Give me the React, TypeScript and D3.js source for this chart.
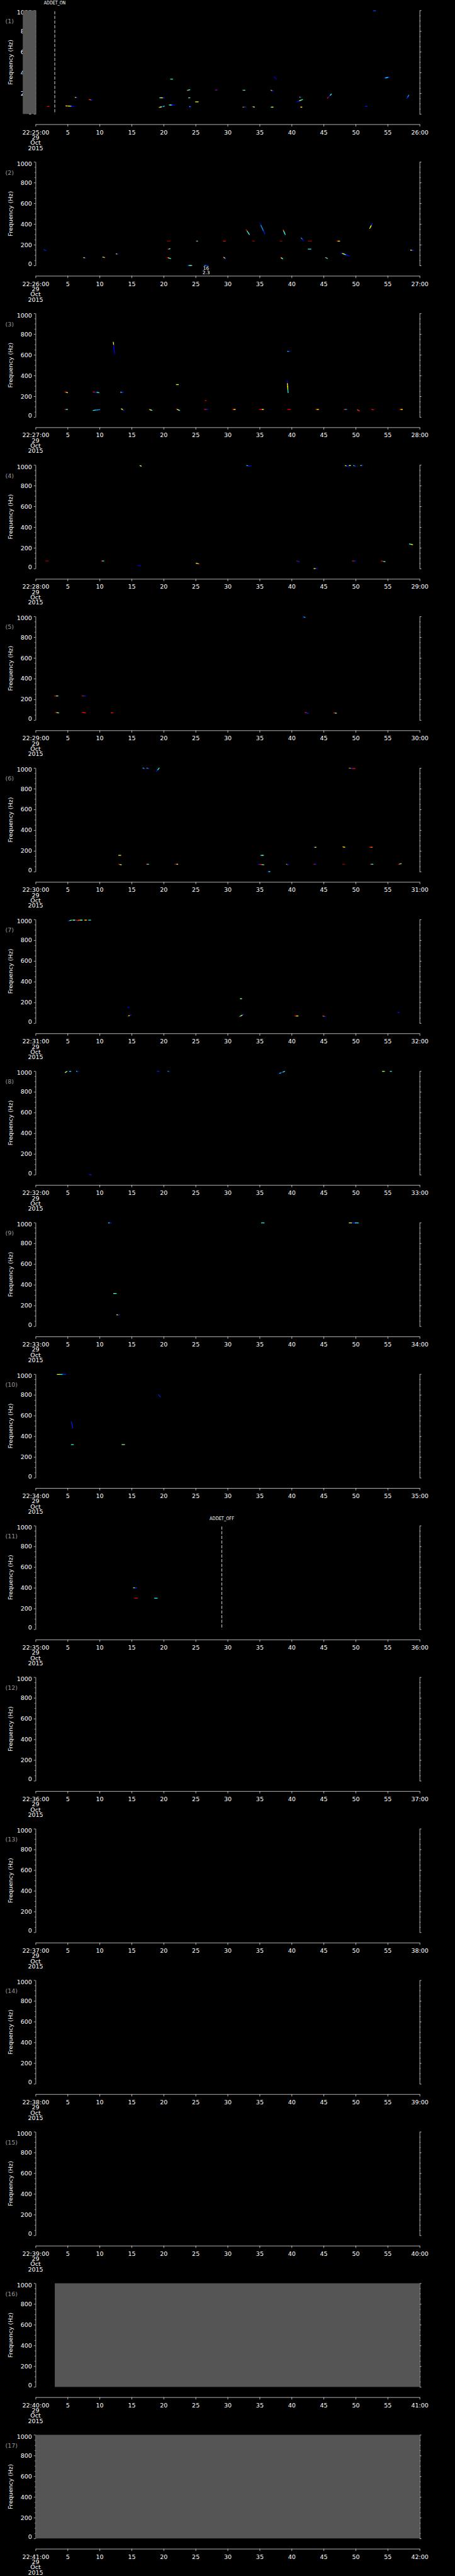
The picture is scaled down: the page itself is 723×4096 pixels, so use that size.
import React, { useEffect, useRef } from 'react';
import * as d3 from 'd3';

// each track: [tStart (s), tEnd (s), fStart (Hz), fEnd (Hz), intensity (0..1) along the track]
type Track = [number, number, number, number, number[]];

const panel1: Track[] = [
  [1.8, 2.1, 73, 73, [0.97, 0.87]],
  [4.75, 6.0, 78, 74, [0.62, 0.75, 0.62, 0.5, 0.15, 0.1]],
  [6.2, 6.5, 160, 156, [0.62, 0.15]],
  [8.35, 8.8, 139, 134, [0.87, 0.75, 0.15]],
  [19.4, 20.1, 156, 156, [0.4, 0.62, 0.62, 0.15]],
  [19.3, 20.1, 63, 75, [0.75, 0.62, 0.5, 0.15, 0.4]],
  [20.9, 21.7, 87, 85, [0.5, 0.4, 0.15, 0.1]],
  [21.1, 21.4, 336, 336, [0.4]],
  [23.7, 24.1, 228, 234, [0.75, 0.4]],
  [23.9, 24.1, 156, 156, [0.75, 0.4]],
  [24.0, 24.3, 71, 71, [0.15, 0.4, 0.15]],
  [25.0, 25.4, 117, 117, [0.62]],
  [28.1, 28.4, 231, 231, [0.87, 0.15]],
  [32.4, 32.7, 229, 229, [0.75, 0.4]],
  [32.4, 32.8, 66, 66, [0.75, 0.15]],
  [33.8, 34.2, 71, 67, [0.97, 0.5]],
  [36.8, 37.1, 228, 222, [0.5, 0.15]],
  [36.8, 37.1, 66, 66, [0.4, 0.62]],
  [37.3, 37.6, 357, 339, [0.1]],
  [40.8, 41.7, 117, 139, [0.1, 0.15, 0.62, 0.4]],
  [41.3, 41.5, 162, 162, [0.62, 0.15]],
  [41.4, 41.6, 66, 66, [0.75, 0.62]],
  [45.6, 46.2, 153, 191, [0.87, 0.1, 0.15, 0.4]],
  [51.5, 51.8, 74, 74, [0.15]],
  [52.8, 53.1, 996, 996, [0.2]],
  [54.5, 55.3, 346, 356, [0.15, 0.4, 0.4, 0.1]],
  [58.0, 58.3, 150, 181, [0.15, 0.28]],
];

const panel2: Track[] = [
  [1.3, 1.6, 154, 144, [0.15]],
  [7.5, 7.8, 77, 71, [0.75, 0.62, 0.15]],
  [10.5, 10.8, 81, 77, [0.5, 0.75]],
  [12.6, 12.9, 112, 112, [0.62, 0.15]],
  [20.6, 21.0, 235, 235, [0.97]],
  [20.7, 21.0, 157, 162, [0.87, 0.4]],
  [20.6, 21.1, 77, 67, [0.87, 0.62, 0.4]],
  [23.75, 24.4, 0, 0, [0.15, 0.4, 0.5]],
  [25.1, 25.3, 235, 235, [0.87, 0.4]],
  [26.4, 26.9, 0, 0, [0.28, 0.15]],
  [29.35, 29.65, 235, 235, [0.87]],
  [29.35, 29.7, 81, 64, [0.87, 0.62, 0.4, 0.15]],
  [32.9, 33.4, 346, 299, [0.87, 0.4, 0.4]],
  [33.9, 34.2, 235, 235, [0.97]],
  [35.0, 35.8, 415, 306, [0.05, 0.28, 0.28, 0.15]],
  [38.2, 38.5, 235, 235, [0.97]],
  [38.3, 38.6, 78, 64, [0.87, 0.62, 0.4]],
  [38.7, 39.0, 341, 299, [0.75, 0.4, 0.4]],
  [41.5, 41.9, 265, 238, [0.28, 0.1]],
  [42.6, 43.1, 235, 235, [0.97]],
  [42.6, 43.0, 158, 158, [0.4]],
  [45.3, 45.6, 77, 68, [0.75, 0.4]],
  [47.0, 47.5, 235, 235, [0.97, 0.62]],
  [47.7, 49.0, 121, 92, [0.15, 0.62, 0.4, 0.15, 0.1]],
  [52.2, 52.6, 358, 405, [0.62, 0.62, 0.15]],
  [58.6, 59.0, 149, 145, [0.62, 0.15]],
];

const panel3: Track[] = [
  [12.15, 12.35, 721, 611, [0.62, 0.1, 0.1, 0.1]],
  [4.6, 5.0, 241, 236, [0.87, 0.62]],
  [4.6, 5.0, 73, 73, [0.87, 0.4]],
  [9.0, 9.9, 241, 236, [0.87, 0.15, 0.4]],
  [9.0, 10.0, 64, 71, [0.4, 0.28, 0.28]],
  [13.3, 13.7, 239, 239, [0.4, 0.15]],
  [13.4, 13.8, 79, 64, [0.62, 0.62, 0.15]],
  [17.8, 18.2, 73, 64, [0.75, 0.62, 0.4]],
  [22.0, 22.3, 313, 313, [0.62]],
  [22.0, 22.5, 77, 64, [0.87, 0.62, 0.4]],
  [26.5, 26.65, 159, 159, [0.87]],
  [26.4, 26.9, 73, 73, [0.87, 0.15]],
  [30.8, 31.2, 73, 73, [0.87, 0.62]],
  [35.0, 35.6, 73, 73, [0.87, 0.87, 0.62]],
  [39.4, 39.7, 634, 634, [0.4, 0.15]],
  [39.3, 39.45, 351, 236, [0.1, 0.62, 0.62, 0.4]],
  [39.4, 39.8, 73, 73, [0.87]],
  [43.8, 44.2, 73, 73, [0.87, 0.62]],
  [48.2, 48.6, 73, 73, [0.87, 0.28]],
  [50.3, 50.6, 69, 59, [0.75, 0.87]],
  [52.5, 52.8, 73, 69, [0.87]],
  [56.9, 57.3, 73, 73, [0.87, 0.62]],
];

const panel4: Track[] = [
  [16.3, 16.5, 994, 989, [0.4, 0.62]],
  [33.0, 33.6, 994, 989, [0.4, 0.15, 0.1]],
  [48.4, 49.0, 994, 980, [0.62, 0.1, 0.1]],
  [49.0, 49.2, 994, 994, [0.62, 0.5]],
  [49.7, 50.0, 994, 989, [0.4, 0.15]],
  [50.8, 51.1, 994, 994, [0.5, 0.15]],
  [58.4, 58.9, 237, 231, [0.4, 0.62]],
  [1.6, 2.0, 73, 73, [0.97]],
  [10.3, 10.65, 73, 73, [0.87, 0.4]],
  [16.0, 16.4, 30, 24, [0.1]],
  [25.1, 25.5, 51, 46, [0.62, 0.75]],
  [40.8, 41.2, 73, 67, [0.97, 0.15]],
  [43.5, 44.0, 0, 0, [0.62, 0.15]],
  [49.5, 50.0, 73, 73, [0.87, 0.15]],
  [54.0, 54.6, 73, 67, [0.87, 0.87, 0.4]],
];

const panel5: Track[] = [
  [41.8, 42.1, 997, 991, [0.15, 0.3]],
  [3.0, 3.5, 233, 233, [0.87, 0.5]],
  [7.3, 7.8, 233, 233, [0.87, 0.15]],
  [3.1, 3.6, 74, 70, [0.87, 0.5]],
  [7.3, 7.8, 74, 70, [0.87, 0.87]],
  [11.8, 12.1, 70, 70, [0.87]],
  [42.1, 42.6, 74, 66, [0.87, 0.15]],
  [46.6, 47.0, 70, 66, [0.87, 0.5]],
];

const panel6: Track[] = [
  [16.8, 17.1, 999, 994, [0.4, 0.15]],
  [17.4, 17.7, 999, 994, [0.75, 0.15]],
  [18.9, 19.3, 967, 999, [0.15, 0.4]],
  [49.0, 49.9, 999, 994, [0.75, 0.15, 0.87]],
  [13.0, 13.3, 157, 157, [0.62]],
  [13.0, 13.4, 71, 66, [0.87, 0.5]],
  [17.3, 17.65, 71, 71, [0.87, 0.4]],
  [21.8, 22.2, 71, 71, [0.87, 0.15, 0.62]],
  [35.2, 35.6, 157, 157, [0.4, 0.5]],
  [34.8, 35.65, 71, 66, [0.15, 0.87, 0.5]],
  [36.3, 36.6, 0, 0, [0.15, 0.4]],
  [39.2, 39.5, 71, 66, [0.75, 0.15]],
  [43.5, 43.8, 235, 235, [0.15, 0.62]],
  [43.5, 43.8, 71, 71, [0.87, 0.15]],
  [48.0, 48.3, 239, 235, [0.75, 0.62]],
  [48.0, 48.3, 71, 71, [0.97]],
  [52.2, 52.6, 235, 235, [0.87, 0.75]],
  [52.3, 52.7, 71, 71, [0.87, 0.4]],
  [56.7, 57.1, 70, 77, [0.87, 0.5]],
];

const panel7: Track[] = [
  [5.1, 5.6, 986, 994, [0.15, 0.5]],
  [5.8, 6.2, 994, 994, [0.4, 0.62]],
  [6.2, 6.7, 994, 989, [0.15, 0.87]],
  [6.7, 6.9, 994, 994, [0.75]],
  [7.0, 7.3, 994, 994, [0.62, 0.4]],
  [7.7, 8.0, 994, 994, [0.62, 0.75]],
  [8.3, 8.6, 994, 994, [0.4]],
  [14.4, 14.6, 154, 149, [0.1]],
  [14.4, 14.9, 67, 79, [0.97, 0.62, 0.15]],
  [32.0, 32.2, 236, 236, [0.62, 0.4]],
  [31.8, 32.5, 61, 86, [0.97, 0.4, 0.62, 0.15]],
  [40.5, 41.0, 69, 69, [0.87, 0.62]],
  [44.9, 45.3, 69, 63, [0.75, 0.15]],
  [56.6, 56.8, 103, 103, [0.15]],
];

const panel8: Track[] = [
  [4.65, 4.9, 986, 997, [0.62, 0.5]],
  [5.2, 5.5, 997, 997, [0.15, 0.4]],
  [6.4, 6.65, 997, 997, [0.4, 0.15]],
  [19.0, 19.3, 997, 997, [0.15]],
  [20.7, 20.9, 997, 997, [0.4, 0.15]],
  [37.9, 38.9, 973, 997, [0.1, 0.4, 0.15, 0.4]],
  [54.2, 54.5, 997, 997, [0.62, 0.5]],
  [55.4, 55.6, 997, 997, [0.4]],
  [8.4, 8.7, 0, 0, [0.15]],
];

const panel9: Track[] = [
  [11.4, 11.8, 997, 997, [0.4, 0.15]],
  [12.2, 12.6, 316, 316, [0.5, 0.4]],
  [12.7, 13.1, 110, 110, [0.62, 0.15]],
  [35.3, 35.7, 997, 997, [0.4]],
  [49.0, 50.4, 997, 997, [0.62, 0.15, 0.4]],
];

const panel10: Track[] = [
  [3.4, 4.7, 997, 997, [0.62, 0.4, 0.15]],
  [5.6, 5.8, 540, 480, [0.15]],
  [5.6, 5.9, 320, 320, [0.4]],
  [13.5, 13.9, 320, 320, [0.5]],
  [19.2, 19.5, 800, 780, [0.15]],
];

const panel11: Track[] = [
  [15.3, 15.8, 400, 400, [0.5, 0.15]],
  [15.5, 15.9, 300, 300, [0.87]],
  [18.6, 19.0, 300, 300, [0.4]],
];

const emptyPanel: Track[] = [];

const panelTracks: Track[][] = [
  panel1, panel2, panel3, panel4, panel5, panel6, panel7, panel8, panel9, panel10, panel11,
  emptyPanel, emptyPanel, emptyPanel, emptyPanel, emptyPanel, emptyPanel,
];

// minute of 22:MM:00 at the start of each panel
const startMinutes = [25, 26, 27, 28, 29, 30, 31, 32, 33, 34, 35, 36, 37, 38, 39, 40, 41];

// spans without data (seconds), drawn grey
const dataGaps: [number, number][][] = [
  [[-2.0, 0]], [], [], [], [], [], [], [], [], [], [], [], [], [], [], [[3.0, 60]], [[0, 60]],
];

const events = [
  { panel: 0, t: 3.0, label: 'ADDET_ON', width: 49 },
  { panel: 10, t: 29.1, label: 'ADDET_OFF', width: 55 },
];

const annotations = [{ panel: 1, t: 26.65, lines: ['16', '2.3'] }];

const freqTicks = [0, 200, 400, 600, 800, 1000];
const freqMinor = [50, 100, 150, 250, 300, 350, 450, 500, 550, 650, 700, 750, 850, 900, 950];
const secTicks = [0, 5, 10, 15, 20, 25, 30, 35, 40, 45, 50, 55, 60];
const dateLines = ['29', 'Oct', '2015'];

const W = 1024;
const H = 5802;
const PANEL_H = H / 17;
const FONT = '"DejaVu Sans", sans-serif';

const jet = d3.scaleLinear<string>()
  .domain([0, 0.125, 0.375, 0.625, 0.875, 1])
  .range(['#00008f', '#0000ff', '#00ffff', '#ffff00', '#ff0000', '#800000'])
  .clamp(true);

const App = () => {
  const ref = useRef<SVGSVGElement>(null);

  useEffect(() => {
    document.body.style.margin = '0';
    document.body.style.background = '#000';

    const svg = d3.select(ref.current);
    svg.selectAll('*').remove();
    svg.append('rect').attr('width', W).attr('height', H).attr('fill', '#000');

    const x = d3.scaleLinear().domain([0, 60]).range([80, 944.5]);
    const y = d3.scaleLinear().domain([0, 1000]).range([256.7, 23.3]);

    const styleAxis = (g: any) => {
      g.attr('font-family', FONT).attr('font-size', 13.5);
      g.selectAll('.domain').attr('stroke', '#fff');
      g.selectAll('line').attr('stroke', '#fff');
      g.selectAll('text').attr('fill', '#fff');
    };

    panelTracks.forEach((tracks, i) => {
      const g = svg.append('g').attr('transform', `translate(0,${i * PANEL_H})`);

      // tracks
      tracks.forEach(([t0, t1, f0, f1, cs]) => {
        const n = cs.length;
        cs.forEach((c, j) => {
          const a = j / n;
          const b = (j + 1) / n;
          g.append('line')
            .attr('x1', x(t0 + (t1 - t0) * a))
            .attr('x2', x(t0 + (t1 - t0) * b))
            .attr('y1', y(f0 + (f1 - f0) * a))
            .attr('y2', y(f0 + (f1 - f0) * b))
            .attr('stroke', jet(c))
            .attr('stroke-width', 1.8)
            .attr('stroke-linecap', 'square');
        });
      });

      // left axis
      const left = g.append('g').attr('transform', 'translate(80,0)')
        .call(d3.axisLeft(y).tickValues(freqTicks).tickSize(4).tickSizeOuter(0).tickPadding(4)
          .tickFormat(d3.format('d')));
      left.call(styleAxis);
      left.selectAll('.tick text')
        .attr('dy', (d: any) => (d === 1000 ? '0.62em' : d === 0 ? '0.05em' : '0.32em'));
      const leftMinor = g.append('g').attr('transform', 'translate(80,0)')
        .call(d3.axisLeft(y).tickValues(freqMinor).tickSize(2).tickFormat(() => ''));
      leftMinor.call(styleAxis);
      leftMinor.select('.domain').remove();

      // right axis
      const right = g.append('g').attr('transform', 'translate(944.5,0)')
        .call(d3.axisRight(y).tickValues(freqTicks).tickSize(4).tickSizeOuter(0).tickFormat(() => ''));
      right.call(styleAxis);
      const rightMinor = g.append('g').attr('transform', 'translate(944.5,0)')
        .call(d3.axisRight(y).tickValues(freqMinor).tickSize(2).tickFormat(() => ''));
      rightMinor.call(styleAxis);
      rightMinor.select('.domain').remove();

      // time axis
      const mm = startMinutes[i];
      const bottom = g.append('g').attr('transform', 'translate(0,280)')
        .call(d3.axisBottom(x).tickValues(secTicks).tickSize(5).tickSizeOuter(0).tickPadding(8)
          .tickFormat((d: any) => (d === 0 ? `22:${mm}:00` : d === 60 ? `${mm + 1}:00` : String(d))));
      bottom.call(styleAxis);
      dateLines.forEach((s, k) => {
        g.append('text')
          .attr('x', x(0))
          .attr('y', 302.6 + (k + 1) * 11.8)
          .attr('text-anchor', 'middle')
          .attr('font-family', FONT)
          .attr('font-size', 13.5)
          .attr('fill', '#fff')
          .text(s);
      });

      // axis title and panel number
      g.append('text')
        .attr('transform', 'translate(23,140) rotate(-90)')
        .attr('dy', '0.35em')
        .attr('text-anchor', 'middle')
        .attr('font-family', FONT)
        .attr('font-size', 13.5)
        .attr('fill', '#fff')
        .text('Frequency (Hz)');
      g.append('text')
        .attr('x', 12)
        .attr('y', 52)
        .attr('font-family', FONT)
        .attr('font-size', 13.5)
        .attr('fill', '#9a9a9a')
        .text(`(${i + 1})`);

      // no-data spans
      dataGaps[i].forEach(([a, b]) => {
        g.append('rect')
          .attr('x', x(a))
          .attr('y', y(1000))
          .attr('width', x(b) - x(a))
          .attr('height', y(0) - y(1000))
          .attr('fill', '#555555');
      });

      // event markers
      events.filter(e => e.panel === i).forEach(e => {
        g.append('line')
          .attr('x1', x(e.t)).attr('x2', x(e.t))
          .attr('y1', y(1000) + 2).attr('y2', y(0))
          .attr('stroke', '#fff')
          .attr('stroke-width', 1.2)
          .attr('stroke-dasharray', '7,3.5');
        g.append('text')
          .attr('x', x(e.t))
          .attr('y', 10.5)
          .attr('text-anchor', 'middle')
          .attr('font-family', FONT)
          .attr('font-size', 11)
          .attr('textLength', e.width)
          .attr('lengthAdjust', 'spacingAndGlyphs')
          .attr('fill', '#fff')
          .text(e.label);
      });

      annotations.filter(a => a.panel === i).forEach(a => {
        a.lines.forEach((s, k) => {
          g.append('text')
            .attr('x', x(a.t))
            .attr('y', y(0) + 10 + k * 9)
            .attr('text-anchor', 'middle')
            .attr('font-family', FONT)
            .attr('font-size', 10.5)
            .attr('fill', '#fff')
            .text(s);
        });
      });
    });
  }, []);

  return (
    <svg
      ref={ref}
      width={723}
      height={4096}
      viewBox={`0 0 ${W} ${H}`}
      style={{ display: 'block', background: '#000' }}
    />
  );
};

export default App;
